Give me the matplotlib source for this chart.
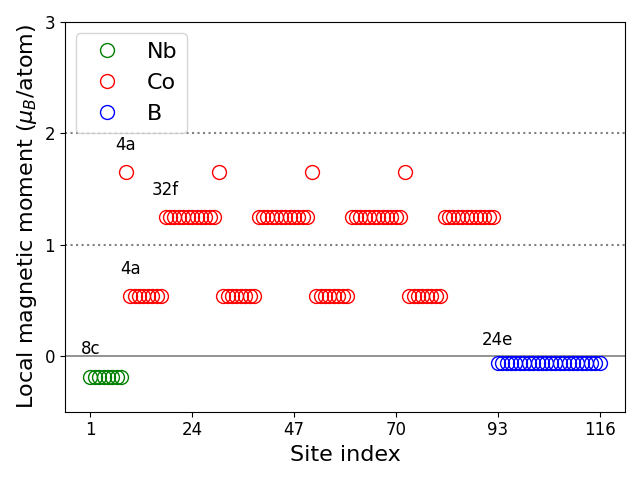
import numpy as np
import matplotlib
matplotlib.use("Agg")
import matplotlib.pyplot as plt

# Site indices and moments
nb_sites = list(range(1, 9))
nb_moment = [-0.19] * 8

co_sites_4a_high = [9, 30, 51, 72]
co_moment_4a_high = [1.65] * 4
co_sites_4a_low = [s for g in (10, 31, 52, 73) for s in range(g, g + 8)]
co_moment_4a_low = [0.54] * len(co_sites_4a_low)
co_sites_32f = [s for g in (18, 39, 60, 81) for s in range(g, g + 12)]
co_moment_32f = [1.25] * len(co_sites_32f)

b_sites = list(range(93, 117))
b_moment = [-0.06] * 24

co_sites = co_sites_4a_high + co_sites_4a_low + co_sites_32f
co_moment = co_moment_4a_high + co_moment_4a_low + co_moment_32f

xticks = [1, 24, 47, 70, 93, 116]

fig, ax = plt.subplots(figsize=(6.4, 4.8), dpi=100)

ax.axhline(0, color="gray", linewidth=1.2)
ax.axhline(1, color="gray", linestyle=":", linewidth=1.5)
ax.axhline(2, color="gray", linestyle=":", linewidth=1.5)

ax.plot(nb_sites, nb_moment, "o", mfc="none", mec="green", ms=10, label="Nb")
ax.plot(co_sites, co_moment, "o", mfc="none", mec="red", ms=10, label="Co")
ax.plot(b_sites, b_moment, "o", mfc="none", mec="blue", ms=10, label="B")

ax.text(9, 1.85, "4a", fontsize=12, ha="center")
ax.text(18, 1.45, "32f", fontsize=12, ha="center")
ax.text(10, 0.74, "4a", fontsize=12, ha="center")
ax.text(1, 0.02, "8c", fontsize=12, ha="center")
ax.text(93, 0.1, "24e", fontsize=12, ha="center")

ax.set_ylim(-0.5, 3)
ax.set_yticks([0, 1, 2, 3])
ax.set_xticks(xticks)
ax.tick_params(labelsize=12)
ax.set_xlabel("Site index", fontsize=16)
ax.set_ylabel(r"Local magnetic moment ($\mu_B$/atom)", fontsize=16)
ax.legend(loc="upper left", fontsize=16)

fig.tight_layout()
fig.savefig("out.png")
